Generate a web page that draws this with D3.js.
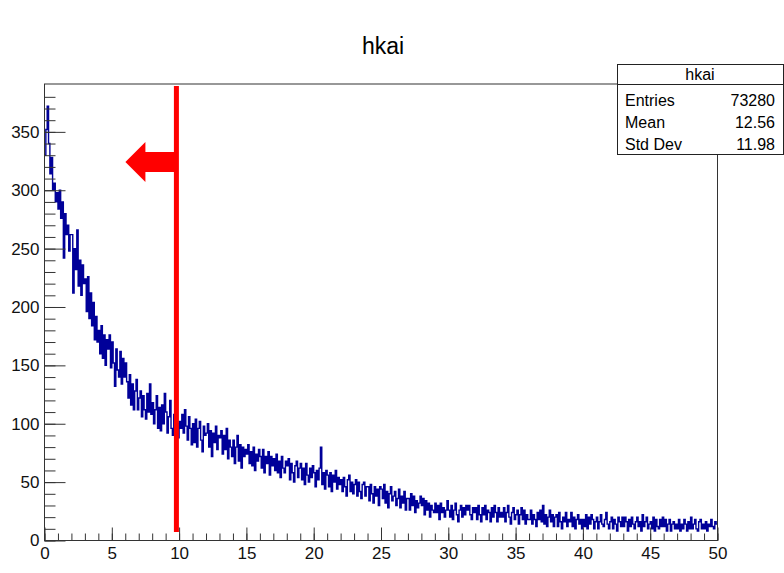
<!DOCTYPE html>
<html>
<head>
<meta charset="utf-8">
<script src="https://cdn.jsdelivr.net/npm/d3@7"></script>
<style>
  body { margin: 0; background: #fff; }
  text { font-family: "Liberation Sans", Arial, Helvetica, sans-serif; }
</style>
</head>
<body>
<script>
const w = 784;
const h = 573;

// histogram hkai: 500 bins, 0..50 (bin width 0.1), counts
const binLow = 0;
const binHigh = 50;
const counts = [
  330, 352, 372, 340, 314, 328, 300, 306, 290, 298,
  284, 300, 276, 290, 242, 280, 262, 270, 248, 262,
  262, 212, 250, 232, 266, 218, 240, 210, 236, 220,
  224, 196, 226, 190, 212, 184, 204, 172, 192, 170,
  180, 160, 184, 156, 176, 150, 172, 164, 176, 148,
  170, 152, 132, 164, 146, 140, 162, 134, 156, 140,
  152, 136, 122, 142, 116, 134, 112, 128, 138, 112,
  122, 128, 106, 124, 112, 104, 126, 110, 134, 108,
  118, 100, 112, 124, 96, 114, 94, 116, 100, 126,
  110, 92, 106, 120, 96, 90, 108, 96, 100, 88,
  102, 96, 108, 92, 112, 98, 86, 106, 96, 82,
  100, 84, 104, 80, 96, 102, 86, 76, 98, 90,
  92, 100, 80, 94, 72, 92, 84, 98, 78, 90,
  88, 94, 74, 90, 78, 96, 70, 86, 80, 72,
  86, 66, 80, 90, 68, 82, 62, 80, 72, 78,
  74, 82, 66, 76, 64, 80, 60, 74, 68, 78,
  72, 62, 78, 58, 72, 66, 76, 56, 72, 64,
  70, 60, 74, 58, 68, 54, 72, 62, 58, 68,
  64, 70, 52, 66, 58, 50, 64, 68, 54, 62,
  66, 52, 62, 48, 66, 56, 50, 62, 54, 64,
  58, 46, 60, 52, 62, 80, 48, 58, 44, 60,
  56, 46, 58, 42, 56, 50, 60, 44, 54, 48,
  52, 42, 54, 46, 38, 52, 56, 42, 50, 40,
  48, 52, 38, 50, 42, 36, 48, 50, 38, 46,
  46, 34, 48, 40, 32, 46, 38, 44, 30, 46,
  44, 36, 48, 32, 42, 28, 40, 46, 34, 38,
  42, 30, 36, 44, 28, 38, 32, 42, 26, 36,
  36, 26, 40, 30, 38, 24, 34, 28, 32, 38,
  30, 36, 22, 34, 26, 32, 20, 30, 26, 24,
  32, 24, 30, 18, 32, 24, 28, 20, 26, 34,
  26, 20, 30, 18, 26, 32, 22, 16, 26, 30,
  20, 28, 22, 30, 26, 30, 22, 18, 28, 24,
  28, 18, 30, 22, 16, 28, 22, 30, 18, 26,
  24, 16, 28, 20, 30, 24, 16, 28, 20, 24,
  20, 28, 16, 24, 30, 20, 14, 24, 28, 18,
  22, 26, 14, 22, 28, 18, 26, 14, 22, 18,
  18, 26, 14, 22, 18, 12, 24, 18, 26, 16,
  30, 14, 22, 12, 20, 26, 16, 22, 12, 20,
  22, 12, 24, 16, 10, 20, 16, 24, 12, 18,
  16, 24, 12, 20, 10, 18, 22, 14, 18, 10,
  18, 12, 22, 10, 20, 14, 22, 18, 10, 16,
  20, 10, 16, 22, 14, 12, 18, 24, 14, 10,
  16, 20, 10, 18, 14, 8, 20, 16, 12, 20,
  12, 20, 16, 8, 18, 12, 20, 14, 10, 16,
  20, 12, 16, 8, 22, 12, 16, 20, 10, 14,
  16, 10, 20, 8, 18, 12, 10, 18, 12, 20,
  12, 18, 8, 14, 18, 8, 14, 16, 10, 14,
  10, 18, 8, 14, 10, 18, 14, 8, 16, 10,
  20, 10, 14, 18, 10, 8, 16, 18, 10, 14,
  10, 16, 8, 14, 12, 18, 12, 10, 16, 14
];
const yMax = 391;

const xMajor = d3.range(0, 51, 5);
const xMinor = d3.range(0, 51, 1);
const yMajor = d3.range(0, 351, 50);
const yMinor = d3.range(0, 381, 10);

const statsTitle = "hkai";
const statsRows = [["Entries", "73280"], ["Mean", "12.56"], ["Std Dev", "11.98"]];

const cutValue = 9.8;

const frame = { left: 44.5, right: 717.5, top: 84, bottom: 540.5 };

const x = d3.scaleLinear().domain([binLow, binHigh]).range([frame.left, frame.right]);
const y = d3.scaleLinear().domain([0, yMax]).range([frame.bottom, frame.top]);

const svg = d3.select("body").append("svg").attr("width", w).attr("height", h);

// title
svg.append("text")
  .attr("x", 383)
  .attr("y", 54)
  .attr("text-anchor", "middle")
  .attr("font-size", 23)
  .text("hkai");

// histogram outline
const bw = (binHigh - binLow) / counts.length;
const pts = counts.map((c, i) => [binLow + i * bw, c]);
pts.push([binHigh, counts[counts.length - 1]]);

svg.append("path")
  .datum(pts)
  .attr("fill", "none")
  .attr("stroke", "#000099")
  .attr("stroke-width", 1.4)
  .attr("d", d3.line().x((d) => x(d[0])).y((d) => y(d[1])).curve(d3.curveStepAfter));

// axes, ticks inside the frame
const xAxisMinor = svg.append("g")
  .attr("transform", `translate(0, ${frame.bottom})`)
  .call(d3.axisBottom(x).tickValues(xMinor).tickSize(-7).tickFormat(""));
const xAxis = svg.append("g")
  .attr("transform", `translate(0, ${frame.bottom})`)
  .call(d3.axisBottom(x).tickValues(xMajor).tickSize(-13).tickPadding(6).tickFormat(d3.format("d")));
const yAxisMinor = svg.append("g")
  .attr("transform", `translate(${frame.left}, 0)`)
  .call(d3.axisLeft(y).tickValues(yMinor).tickSize(-11).tickFormat(""));
const yAxis = svg.append("g")
  .attr("transform", `translate(${frame.left}, 0)`)
  .call(d3.axisLeft(y).tickValues(yMajor).tickSize(-21).tickPadding(5).tickFormat(d3.format("d")));

[xAxisMinor, xAxis, yAxisMinor, yAxis].forEach((g) => {
  g.select(".domain").remove();
  g.selectAll(".tick line").attr("stroke", "#333");
  g.selectAll(".tick text")
    .attr("font-family", "Liberation Sans, Arial, sans-serif")
    .attr("font-size", 17)
    .attr("fill", "#111");
});

// frame
svg.append("rect")
  .attr("x", frame.left)
  .attr("y", frame.top)
  .attr("width", frame.right - frame.left)
  .attr("height", frame.bottom - frame.top)
  .attr("fill", "none")
  .attr("stroke", "#333")
  .attr("stroke-width", 1);

// cut line and arrow
const cx = x(cutValue);
svg.append("line")
  .attr("x1", cx).attr("x2", cx)
  .attr("y1", 86).attr("y2", 532)
  .attr("stroke", "#ff0000")
  .attr("stroke-width", 5);
svg.append("path")
  .attr("fill", "#ff0000")
  .attr("d", `M${cx},152 L${cx - 31},152 L${cx - 31},142 L${cx - 51},162 L${cx - 31},182 L${cx - 31},172 L${cx},172 Z`);

// stats box
const box = { x: 617, y: 64, w: 166, h: 90, head: 20 };
const sb = svg.append("g");
sb.append("rect")
  .attr("x", box.x + 0.5).attr("y", box.y + 0.5)
  .attr("width", box.w).attr("height", box.h)
  .attr("fill", "#fff").attr("stroke", "#222").attr("stroke-width", 1);
sb.append("line")
  .attr("x1", box.x + 0.5).attr("x2", box.x + box.w + 0.5)
  .attr("y1", box.y + box.head + 0.5).attr("y2", box.y + box.head + 0.5)
  .attr("stroke", "#222");
sb.append("text")
  .attr("x", box.x + box.w / 2)
  .attr("y", box.y + 15.5)
  .attr("text-anchor", "middle")
  .attr("font-size", 16)
  .text(statsTitle);
statsRows.forEach((r, i) => {
  const ty = box.y + 41.5 + i * 22;
  sb.append("text").attr("x", box.x + 8).attr("y", ty).attr("font-size", 16).text(r[0]);
  sb.append("text").attr("x", box.x + 158).attr("y", ty).attr("text-anchor", "end").attr("font-size", 16).text(r[1]);
});
</script>
</body>
</html>
